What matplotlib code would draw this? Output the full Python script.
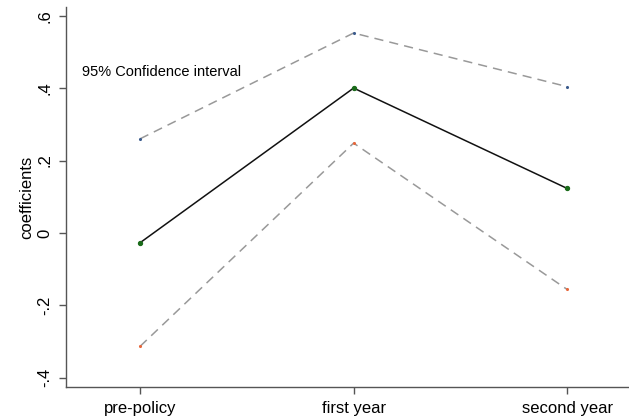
import matplotlib
matplotlib.use("Agg")
import matplotlib.pyplot as plt

# period labels and estimates
periods = ["pre-policy", "first year", "second year"]
coef = [-0.027, 0.400, 0.123]
ci_upper = [0.260, 0.552, 0.404]
ci_lower = [-0.313, 0.248, -0.156]
yticks = [-0.4, -0.2, 0, 0.2, 0.4, 0.6]
ytick_labels = ["-.4", "-.2", "0", ".2", ".4", ".6"]

plt.rcParams['font.family'] = ['Liberation Sans', 'DejaVu Sans']

fig = plt.figure(figsize=(6.29, 4.19), dpi=100)
ax = fig.add_axes([0.105, 0.0764, 0.895, 0.907])

x = list(range(len(periods)))

# confidence bands
ax.plot(x, ci_upper, color="#999999", lw=1.1, dashes=(6, 4))
ax.plot(x, ci_lower, color="#999999", lw=1.1, dashes=(6, 4))
ax.scatter(x, ci_upper, s=1.5, color="#3a5a8c", zorder=3)
ax.scatter(x, ci_lower, s=1.5, color="#e8663a", zorder=3)

# point estimates
ax.plot(x, coef, color="#111111", lw=1.1)
ax.scatter(x, coef, s=8, color="#1a6b1a", zorder=4)

ax.text(-0.27, 0.445, "95% Confidence interval", fontsize=10.5, va="center", ha="left")

ax.set_xlim(-0.347, 2.29)
ax.set_ylim(-0.4254, 0.624)
ax.set_xticks(x)
ax.set_xticklabels(periods, fontsize=12)
ax.set_yticks(yticks)
ax.set_yticklabels(ytick_labels, fontsize=12, rotation=90, va="center")
ax.set_ylabel("coefficients", fontsize=12, labelpad=2)

for s in ["top", "right"]:
    ax.spines[s].set_visible(False)
for s in ["left", "bottom"]:
    ax.spines[s].set_color("#555555")
    ax.spines[s].set_linewidth(1.0)
ax.tick_params(color="#555555", length=5, width=1, pad=5)

fig.savefig("out.png", dpi=100)
